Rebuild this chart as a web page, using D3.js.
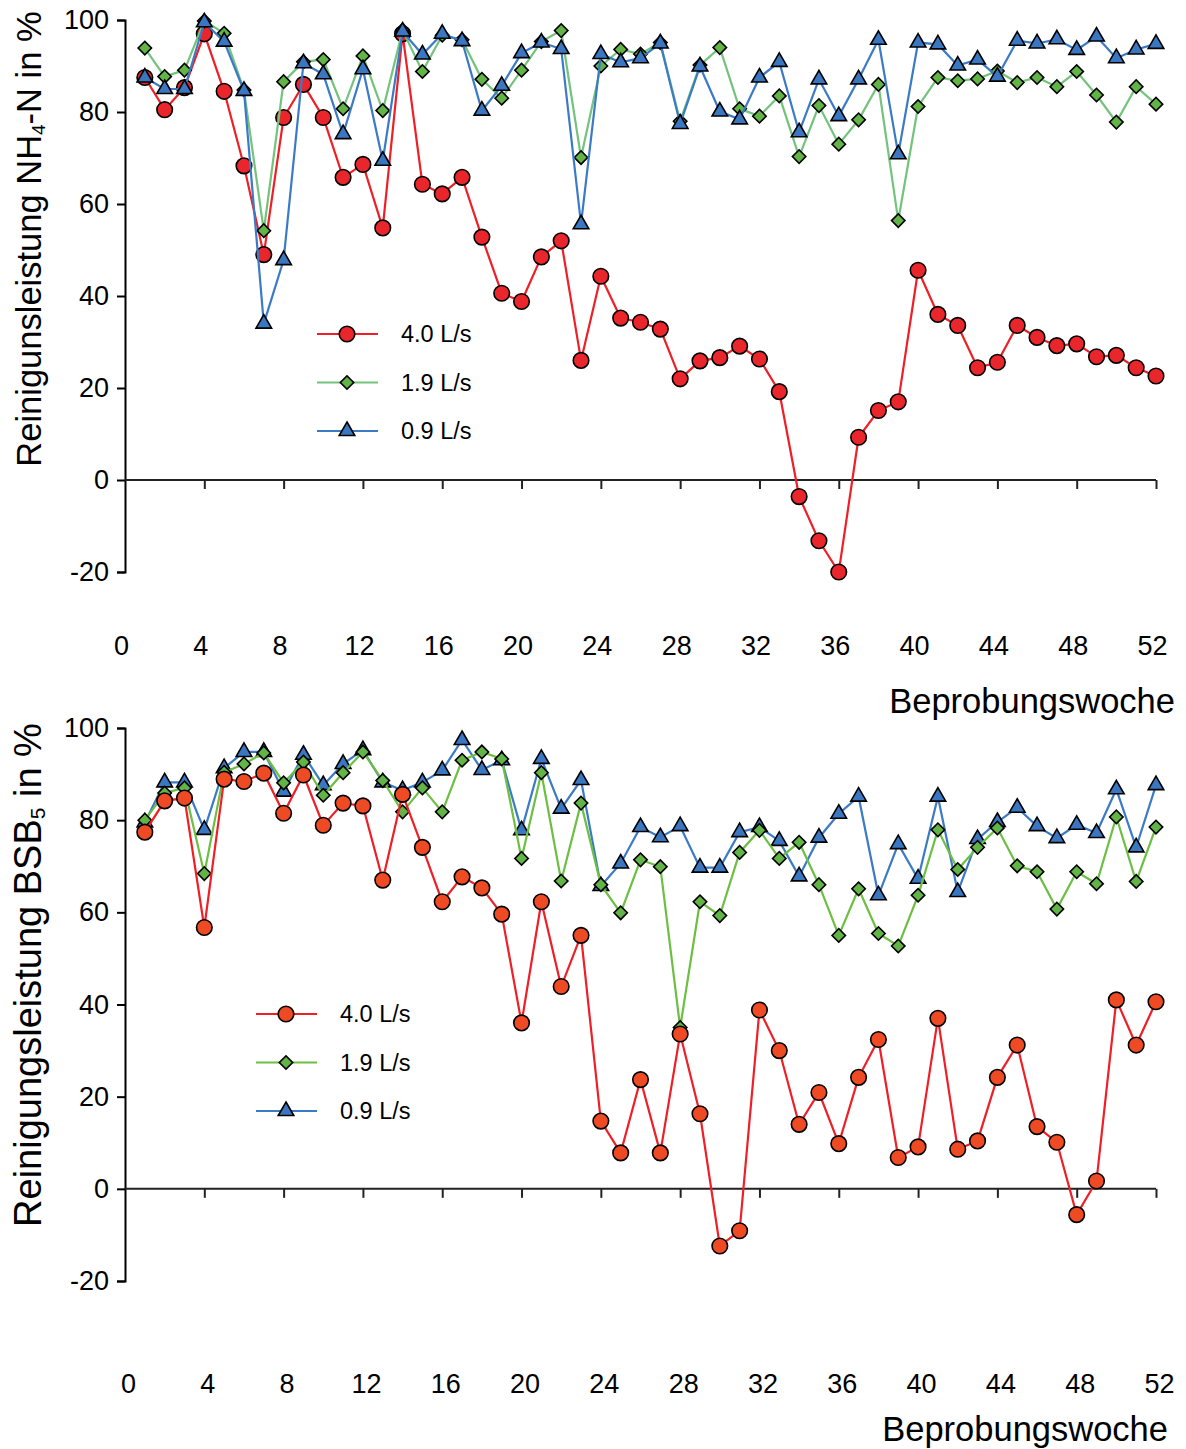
<!DOCTYPE html>
<html>
<head>
<meta charset="utf-8">
<script src="https://cdn.jsdelivr.net/npm/d3@7"></script>
<style>
  body { margin: 0; background: #fff; }
  text { font-family: "Liberation Sans", Arial, sans-serif; fill: #000; }
</style>
</head>
<body>
<div id="chart"></div>
<script>
// Beprobungswochen
var weeks = [1, 2, 3, 4, 5, 6, 7, 8, 9, 10, 11, 12, 13, 14, 15, 16, 17, 18, 19, 20,
  21, 22, 23, 24, 25, 26, 27, 28, 29, 30, 31, 32, 33, 34, 35, 36, 37, 38, 39, 40,
  41, 42, 43, 44, 45, 46, 47, 48, 49, 50, 51, 52];

var seriesNames = ["4.0 L/s", "1.9 L/s", "0.9 L/s"];
var xTicks = [0, 4, 8, 12, 16, 20, 24, 28, 32, 36, 40, 44, 48, 52];
var yTicks = [-20, 0, 20, 40, 60, 80, 100];

// NH4-N Reinigungsleistung (%)
var nh4_40 = [87.5, 80.5, 85.3, 97, 84.5, 68.3, 49, 78.8, 86, 78.8,
  65.8, 68.6, 54.8, 97, 64.3, 62.2, 65.8, 52.8, 40.6, 38.8,
  48.5, 52, 26, 44.3, 35.2, 34.3, 32.8, 22, 25.9, 26.6,
  29.1, 26.3, 19.2, -3.6, -13.2, -20, 9.3, 15.1, 17, 45.6,
  36, 33.6, 24.4, 25.6, 33.6, 31, 29.2, 29.6, 26.8, 27.1, 24.4, 22.6];
var nh4_19 = [93.9, 87.7, 89.1, 99.8, 97.1, 84.8, 54.2, 86.6, 90.9, 91.4,
  80.7, 92.2, 80.3, 97.8, 88.8, 96.7, 95.7, 87.1, 83, 89.1,
  95.3, 97.7, 70.1, 90, 93.6, 92.6, 95.1, 78, 90.2, 94,
  80.7, 79.1, 83.5, 70.3, 81.4, 73, 78.3, 86, 56.4, 81.2,
  87.5, 86.8, 87.2, 88.9, 86.4, 87.5, 85.5, 88.8, 83.7, 77.8, 85.5, 81.7];
var nh4_09 = [87.5, 85, 85, 99.5, 95.3, 84.6, 34, 47.8, 90.6, 88.2,
  75.2, 89.3, 69.4, 97.5, 92.5, 97, 95.4, 80.3, 85.7, 92.8,
  95.1, 93.7, 55.6, 92.6, 90.8, 91.7, 94.9, 77.4, 89.9, 80.1,
  78.4, 87.5, 90.9, 75.6, 87.1, 79.1, 87.1, 95.7, 70.8, 95.1,
  94.7, 90.1, 91.4, 87.7, 95.5, 94.9, 95.8, 93.5, 96.4, 91.7, 93.6, 94.8];

// BSB5 Reinigungsleistung (%)
var bsb_40 = [77.4, 84.2, 84.8, 56.7, 88.9, 88.4, 90.2, 81.5, 89.8, 78.9,
  83.7, 83.1, 67, 85.6, 74.1, 62.3, 67.7, 65.3, 59.6, 36,
  62.3, 43.9, 55, 14.7, 7.8, 23.7, 7.8, 33.6, 16.3, -12.4,
  -9.1, 38.8, 30, 14, 20.9, 9.8, 24.2, 32.4, 6.8, 9.1,
  37, 8.6, 10.4, 24.2, 31.2, 13.5, 10.1, -5.6, 1.7, 41, 31.2, 40.6];
var bsb_19 = [80, 85.9, 87, 68.4, 90.4, 92.2, 94.6, 88.1, 92.6, 85.4,
  90.3, 94.8, 88.6, 81.8, 87, 81.8, 93, 94.8, 93.3, 71.7,
  90.3, 66.8, 83.7, 66, 59.9, 71.4, 69.9, 35, 62.3, 59.3,
  73, 77.8, 71.7, 75.2, 66, 55, 65.1, 55.4, 52.7, 63.7,
  77.9, 69.3, 74.1, 78.3, 70.1, 68.8, 60.7, 68.8, 66.2, 80.7, 66.7, 78.5];
var bsb_09 = [79.5, 88.2, 88.2, 77.9, 91.3, 94.8, 94.8, 86.2, 94.2, 87.6,
  92.2, 95.2, 88.2, 86.5, 88.2, 90.8, 97.4, 90.9, 93, 77.8,
  93.3, 82.5, 88.7, 65.7, 70.6, 78.5, 76.3, 78.7, 69.7, 69.7,
  77.4, 78.5, 75.5, 67.8, 76.2, 81.4, 85.1, 63.7, 74.8, 67.3,
  85.1, 64.4, 75.9, 79.6, 82.7, 78.7, 76.1, 79, 77.2, 86.7, 74.1, 87.6];

var svg = d3.select("#chart").append("svg")
  .attr("width", 1186)
  .attr("height", 1449);

// marker shapes
var circle = d3.symbol().type(d3.symbolCircle).size(190);
var diamond = d3.symbol().type(d3.symbolSquare).size(90);
var triangle = d3.symbol().type(d3.symbolTriangle).size(105);

// plain hyphen for negatives, like the original
var plain = function (d) { return String(d); };

function drawPanel(cfg) {
  var x = d3.scaleLinear().domain([0, 52]).range([125, 1156]);
  var y = d3.scaleLinear().domain([-20, 100]).range([cfg.bottom, cfg.top]);
  var g = svg.append("g");

  // y axis
  var yAx = g.append("g")
    .attr("transform", "translate(125,0)")
    .call(d3.axisLeft(y).tickValues(yTicks).tickSize(8).tickPadding(8).tickFormat(plain));
  yAx.select(".domain").attr("stroke", "#000").attr("stroke-width", 2);
  yAx.selectAll(".tick line").attr("stroke", "#000").attr("stroke-width", 2);
  yAx.selectAll("text").attr("font-size", 27)
    .style("font-family", "'Liberation Sans', Arial, sans-serif");

  // x axis on the zero line
  var xAx = g.append("g")
    .attr("transform", "translate(0," + y(0) + ")")
    .call(d3.axisBottom(x).tickValues(xTicks.slice(1)).tickSize(9).tickFormat(""));
  xAx.select(".domain").attr("stroke", "#222").attr("stroke-width", 2)
    .attr("d", "M125,0H" + x(52));
  xAx.selectAll(".tick line").attr("stroke", "#222").attr("stroke-width", 2);

  // tick labels below the plot
  var lab = g.append("g")
    .attr("transform", "translate(" + cfg.labShift + "," + cfg.labY + ")")
    .call(d3.axisBottom(x).tickValues(xTicks).tickSize(0).tickPadding(0).tickFormat(plain));
  lab.select(".domain").remove();
  lab.selectAll("text").attr("font-size", 27)
    .style("font-family", "'Liberation Sans', Arial, sans-serif");

  g.append("text")
    .attr("x", cfg.titleX)
    .attr("y", cfg.titleY)
    .attr("text-anchor", "end")
    .attr("font-size", 34.5)
    .text("Beprobungswoche");

  // y title with subscript
  var yt = g.append("text")
    .attr("transform", "translate(" + cfg.yTitleX + "," + cfg.yTitleY + ") rotate(-90)")
    .attr("text-anchor", "middle")
    .attr("font-size", cfg.yTitleSize);
  yt.append("tspan").text(cfg.yTitle[0]);
  yt.append("tspan").attr("font-size", cfg.yTitleSize * 0.55).attr("dy", 4).text(cfg.yTitle[1]);
  yt.append("tspan").attr("dy", -4).text(cfg.yTitle[2]);

  var line = d3.line()
    .x(function (d, i) { return x(weeks[i]); })
    .y(function (d) { return y(d); });

  cfg.order.forEach(function (k) {
    var s = cfg.series[k];
    g.append("path")
      .datum(s.values)
      .attr("fill", "none")
      .attr("stroke", s.line)
      .attr("stroke-width", 2.2)
      .attr("d", line);
    g.selectAll(".m" + k)
      .data(s.values)
      .enter()
      .append("path")
      .attr("d", s.sym)
      .attr("transform", function (d, i) {
        return "translate(" + x(weeks[i]) + "," + y(d) + ")" + (s.rot ? " rotate(45)" : "");
      })
      .attr("fill", s.fill)
      .attr("stroke", "#000")
      .attr("stroke-width", 1.6);
  });

  // legend
  cfg.series.forEach(function (s, i) {
    var ly = cfg.legY + i * 48.5;
    g.append("line")
      .attr("x1", cfg.legX).attr("x2", cfg.legX + 61)
      .attr("y1", ly).attr("y2", ly)
      .attr("stroke", s.line).attr("stroke-width", 2);
    g.append("path")
      .attr("d", s.sym)
      .attr("transform", "translate(" + (cfg.legX + 30) + "," + ly + ")" + (s.rot ? " rotate(45)" : ""))
      .attr("fill", s.fill)
      .attr("stroke", "#000")
      .attr("stroke-width", 1.6);
    g.append("text")
      .attr("x", cfg.legX + 84)
      .attr("y", ly + 8)
      .attr("font-size", 23.5)
      .text(seriesNames[i]);
  });
}

drawPanel({
  top: 20, bottom: 572, labY: 636, labShift: -4,
  titleX: 1175, titleY: 713,
  yTitleX: 41, yTitleY: 239, yTitleSize: 34.5,
  yTitle: ["Reinigunsleistung NH", "4", "-N in %"],
  legX: 317, legY: 334,
  order: [0, 1, 2],
  series: [
    { values: nh4_40, line: "#ee1f26", fill: "#e8262b", sym: circle },
    { values: nh4_19, line: "#74c37c", fill: "#62b446", sym: diamond, rot: true },
    { values: nh4_09, line: "#3b7bc6", fill: "#3a77c0", sym: triangle }
  ]
});

drawPanel({
  top: 728, bottom: 1281, labY: 1374, labShift: 3,
  titleX: 1168, titleY: 1441,
  yTitleX: 41, yTitleY: 975, yTitleSize: 38,
  yTitle: ["Reinigungsleistung BSB", "5", " in %"],
  legX: 256, legY: 1014,
  order: [2, 1, 0],
  series: [
    { values: bsb_40, line: "#ee1f26", fill: "#ee4a24", sym: circle },
    { values: bsb_19, line: "#6cbf42", fill: "#62b446", sym: diamond, rot: true },
    { values: bsb_09, line: "#3b7bc6", fill: "#3a77c0", sym: triangle }
  ]
});
</script>
</body>
</html>
